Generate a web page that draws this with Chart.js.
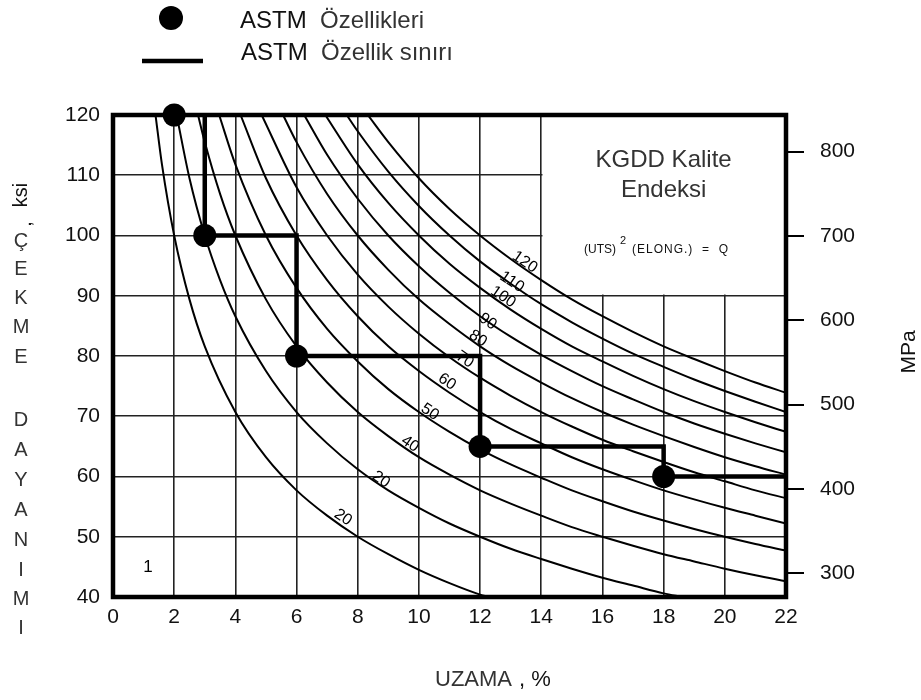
<!DOCTYPE html>
<html>
<head>
<meta charset="utf-8">
<script src="https://cdn.jsdelivr.net/npm/chart.js@4.4.1/dist/chart.umd.min.js"></script>
<style>
html,body{margin:0;padding:0;background:#fff;}
canvas{display:block;}
</style>
</head>
<body>
<canvas id="c" width="921" height="700"></canvas>
<script>
// ---- Data ----
const xTicks = [0,2,4,6,8,10,12,14,16,18,20,22];
const ksiTicks = [40,50,60,70,80,90,100,110,120];
const mpaTicks = [300,400,500,600,700,800];

// Quality index curves (UTS ksi vs elongation %)
const q20  = [[1.39,120],[1.6,111.8],[2,100],[2.5,89.4],[3,81.6],[4,70.7],[5,63.2],[6,57.7],[7,53.5],[8,50],[9,47.1],[10,44.5],[11,42.3],[12,40.4],[12.3,40]];
const q30  = [[2.08,120],[2.5,109.5],[3,100],[3.5,92.6],[4,86.6],[5,77.5],[6,70.7],[7,65.5],[8,61.2],[9,57.7],[10,54.8],[11,52.2],[12,50],[13,48],[14,46.3],[15,44.7],[16,43.2],[17,41.9],[18,40.6],[18.6,40]];
const q40  = [[2.78,120],[3,115.5],[3.5,106.9],[4,100],[5,89.4],[6,81.6],[7,75.6],[8,70.7],[9,66.7],[10,63.2],[11,60.3],[12,57.7],[13,55.5],[14,53.5],[15,51.6],[16,50],[17,48.5],[18,47.1],[19,45.9],[20,44.7],[21,43.6],[22,42.6]];
const q50  = [[3.47,120],[4,111.8],[5,100],[6,91.3],[7,84.5],[8,79.1],[9,74.5],[10,70.7],[11,67.4],[12,64.5],[13,62],[14,59.8],[15,57.7],[16,55.9],[17,54.2],[18,52.7],[19,51.3],[20,50],[21,48.8],[22,47.7]];
const q60  = [[4.17,120],[5,109.5],[6,100],[7,92.6],[8,86.6],[9,81.6],[10,77.5],[11,73.9],[12,70.7],[13,67.9],[14,65.5],[15,63.2],[16,61.2],[17,59.4],[18,57.7],[19,56.2],[20,54.8],[21,53.5],[22,52.2]];
const q70  = [[4.86,120],[6,108],[7,100],[8,93.5],[9,88.2],[10,83.7],[11,79.8],[12,76.4],[13,73.4],[14,70.7],[15,68.3],[16,66.1],[17,64.2],[18,62.4],[19,60.7],[20,59.2],[21,57.7],[22,56.4]];
const q80  = [[5.56,120],[6,115.5],[7,106.9],[8,100],[9,94.3],[10,89.4],[11,85.3],[12,81.6],[13,78.4],[14,75.6],[15,73],[16,70.7],[17,68.6],[18,66.7],[19,64.9],[20,63.2],[21,61.7],[22,60.3]];
const q90  = [[6.25,120],[7,113.4],[8,106.1],[9,100],[10,94.9],[11,90.5],[12,86.6],[13,83.2],[14,80.2],[15,77.5],[16,75],[17,72.8],[18,70.7],[19,68.8],[20,67.1],[21,65.5],[22,64]];
const q100 = [[6.94,120],[8,111.8],[9,105.4],[10,100],[11,95.3],[12,91.3],[13,87.7],[14,84.5],[15,81.6],[16,79.1],[17,76.7],[18,74.5],[19,72.5],[20,70.7],[21,69],[22,67.4]];
const q110 = [[7.64,120],[8,117.3],[9,110.6],[10,104.9],[11,100],[12,95.7],[13,92],[14,88.6],[15,85.6],[16,82.9],[17,80.4],[18,78.2],[19,76.1],[20,74.2],[21,72.4],[22,70.7]];
const q120 = [[8.33,120],[9,115.5],[10,109.5],[11,104.4],[12,100],[13,96.1],[14,92.6],[15,89.4],[16,86.6],[17,84],[18,81.6],[19,79.5],[20,77.5],[21,75.6],[22,73.9]];
const curves = [q20,q30,q40,q50,q60,q70,q80,q90,q100,q110,q120];

// Curve labels (as printed)
const curveLabelText = ['20','20','40','50','60','70','80','90','100','110','120'];
const curveLabelX    = [7.52,8.76,9.71,10.36,10.92,11.5,11.93,12.25,12.75,13.04,13.46];
const curveLabelY    = [53.2,59.5,65.4,70.7,75.7,79.4,82.9,85.7,89.8,92.3,95.6];

// ASTM property points
const astmX = [2,3,6,12,18];
const astmY = [120,100,80,65,60];

// ASTM property limit (step line)
const limitX = [3,3,6,6,12,12,18,18,22];
const limitY = [120,100,100,80,80,65,65,60,60];

// Index box region
const boxX = [14,22];
const boxY = [90,120];

const toXY = arr => arr.map(p => ({x:p[0], y:p[1]}));

const datasets = [];
datasets.push({
  label:'ASTM Özellikleri', data: astmX.map((v,i)=>({x:v,y:astmY[i]})),
  showLine:false, pointRadius:11.5, pointHoverRadius:11.5,
  backgroundColor:'#000', borderColor:'#000', borderWidth:0, clip:false, order:0
});
datasets.push({
  label:'ASTM Özellik sınırı', data: limitX.map((v,i)=>({x:v,y:limitY[i]})),
  borderColor:'#000', borderWidth:4.5, pointRadius:0, tension:0, fill:false, order:1,
  borderJoinStyle:'miter'
});
curves.forEach((c,i)=>{
  datasets.push({
    label:'Q'+i, data:toXY(c), borderColor:'#000', borderWidth:2, pointRadius:0,
    cubicInterpolationMode:'monotone', fill:false, order:2
  });
});

const FONT = "'Liberation Sans', Arial, sans-serif";

const deco = {
  id:'deco',
  beforeDatasetsDraw(chart){
    const {ctx, scales:{x,y}} = chart;
    const l = x.getPixelForValue(boxX[0]), r = x.getPixelForValue(boxX[1]);
    const t = y.getPixelForValue(boxY[1]), b = y.getPixelForValue(boxY[0]);
    ctx.save(); ctx.fillStyle='#fff';
    ctx.fillRect(l+1.2, t, r-l-1.2, b-t-1.2);
    ctx.restore();
  },
  afterDatasetsDraw(chart){
    const {ctx, chartArea:a, scales:{x,y}} = chart;
    ctx.save();
    // frame
    ctx.strokeStyle='#000'; ctx.lineWidth=4.5;
    ctx.strokeRect(a.left, a.top, a.right-a.left, a.bottom-a.top);
    // curve labels
    ctx.fillStyle='#000'; ctx.font='16px '+FONT;
    ctx.textAlign='center'; ctx.textBaseline='middle';
    curveLabelText.forEach((t,i)=>{
      ctx.save();
      ctx.translate(x.getPixelForValue(curveLabelX[i]), y.getPixelForValue(curveLabelY[i]));
      ctx.rotate(34*Math.PI/180);
      ctx.fillText(t,0,0);
      ctx.restore();
    });
    ctx.font='17px '+FONT;
    ctx.fillText('1', x.getPixelForValue(1.14), y.getPixelForValue(44.9));
    // index box texts
    const bx = (x.getPixelForValue(boxX[0])+x.getPixelForValue(boxX[1]))/2;
    ctx.fillStyle='#333'; ctx.font='24px '+FONT;
    ctx.fillText('KGDD Kalite', bx, 160);
    ctx.fillText('Endeksi', bx, 190);
    ctx.fillStyle='#111'; ctx.textAlign='left';
    ctx.font='12px '+FONT;
    ctx.fillText('(UTS)', 584, 250);
    ctx.font='11px '+FONT;
    ctx.fillText('2', 620, 241);
    ctx.font='12px '+FONT;
    ctx.letterSpacing='1px';
    ctx.fillText('(ELONG.)  =  Q', 632, 250);
    ctx.letterSpacing='0px';
    // legend
    ctx.fillStyle='#000';
    ctx.beginPath(); ctx.arc(171,18,12,0,Math.PI*2); ctx.fill();
    ctx.lineWidth=4.5; ctx.beginPath(); ctx.moveTo(142,61); ctx.lineTo(203,61); ctx.stroke();
    ctx.font='24px '+FONT; ctx.textBaseline='alphabetic';
    ctx.fillStyle='#111';
    ctx.fillText('ASTM', 240, 28);
    ctx.fillText('ASTM', 241, 60);
    ctx.fillStyle='#333';
    ctx.fillText('Özellikleri', 320, 28);
    ctx.fillText('Özellik sınırı', 321, 60);
    // x title
    ctx.font='22px '+FONT; ctx.textBaseline='middle';
    ctx.fillStyle='#333'; ctx.fillText('UZAMA', 435, 680);
    ctx.fillStyle='#111'; ctx.fillText(', %', 519, 680);
    // right title
    ctx.save(); ctx.translate(909, 352); ctx.rotate(-Math.PI/2);
    ctx.textAlign='center'; ctx.font='21px '+FONT; ctx.fillStyle='#111';
    ctx.fillText('MPa', 0, 0); ctx.restore();
    // left title
    ctx.save(); ctx.translate(21, 195); ctx.rotate(-Math.PI/2);
    ctx.textAlign='center'; ctx.font='20px '+FONT; ctx.fillStyle='#111';
    ctx.fillText('ksi', 0, 0); ctx.restore();
    ctx.save(); ctx.translate(25, 224); ctx.rotate(-Math.PI/2);
    ctx.textAlign='center'; ctx.font='20px '+FONT; ctx.fillStyle='#111';
    ctx.fillText(',', 0, 0); ctx.restore();
    ctx.textAlign='center'; ctx.font='20px '+FONT; ctx.fillStyle='#333';
    const letters = ['Ç','E','K','M','E','D','A','Y','A','N','I','M','I'];
    const ly = [241,269,298,327,357,420,450,480,510,540,570,599,628];
    letters.forEach((L,i)=>ctx.fillText(L, 21, ly[i]));
    ctx.restore();
  }
};

new Chart(document.getElementById('c'), {
  type:'line',
  data:{datasets},
  options:{
    responsive:false, animation:false,
    layout:{padding:{top:115,left:0,right:0,bottom:0}},
    plugins:{legend:{display:false}, tooltip:{enabled:false}},
    scales:{
      x:{
        type:'linear', min:0, max:22,
        afterBuildTicks: s => { s.ticks = xTicks.map(v=>({value:v})); },
        afterFit: s => { s.height = 103; },
        ticks:{font:{size:21, family:FONT}, color:'#111', padding:8, maxRotation:0},
        grid:{color:'#222', lineWidth:1.6, drawTicks:false},
        border:{display:false}
      },
      y:{
        type:'linear', position:'left', min:40, max:120,
        afterBuildTicks: s => { s.ticks = ksiTicks.map(v=>({value:v})); },
        afterFit: s => { s.width = 113; },
        ticks:{font:{size:21, family:FONT}, color:'#111', padding:13},
        grid:{color:'#222', lineWidth:1.6, drawTicks:false},
        border:{display:false}
      },
      y2:{
        type:'linear', position:'right', min:271.8, max:843.5,
        afterBuildTicks: s => { s.ticks = mpaTicks.map(v=>({value:v})); },
        afterFit: s => { s.width = 135; },
        ticks:{font:{size:21, family:FONT}, color:'#111', padding:16},
        grid:{drawOnChartArea:false, drawTicks:true, tickLength:18, color:'#000', lineWidth:2},
        border:{display:false}
      }
    }
  },
  plugins:[deco]
});
</script>
</body>
</html>
